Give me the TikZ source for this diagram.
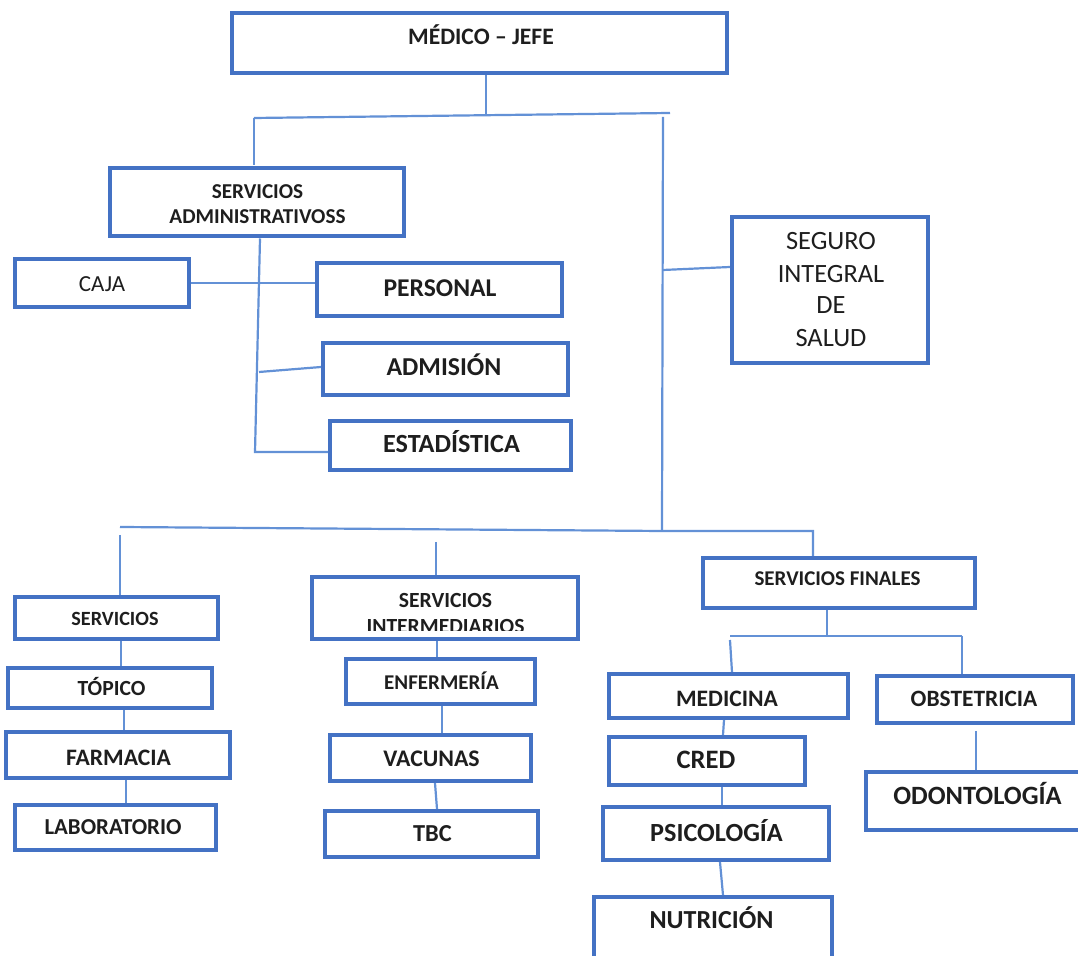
\documentclass[tikz,border=0pt]{standalone}
\usepackage{fontspec}
\setmainfont{Carlito}
\usetikzlibrary{calc}
\definecolor{bx}{HTML}{4472C4}
\definecolor{ln}{HTML}{6391D6}
\definecolor{tx}{HTML}{1E1E1E}
\tikzset{
 box/.style={draw=bx, line width=2pt, rectangle, inner sep=0pt},
 conn/.style={draw=ln, line width=1.1pt},
 lbl/.style={text=tx, inner sep=0pt},
}
\newcommand\T[6]{\node[lbl,font=#6\fontsize{#4pt}{#4pt}\selectfont,anchor=base,yshift=-0.322*#4pt] (#1) at (#2,#3) {#5};}
\newcommand\B[5]{\node[box,minimum width=#4pt,minimum height=#5pt] (#1) at (#2,#3) {};}
\begin{document}
\begin{tikzpicture}[x=0.5pt,y=-0.5pt]
\useasboundingbox (0,0) rectangle (1078,956);
\clip (0,0) rectangle (1078,956);
% boxes
\B{med}{479.5}{43}{247.5}{30}
\B{adm}{257}{202.5}{147}{34}
\B{caja}{102}{283}{87}{24}
\B{pers}{439.5}{289.5}{122.5}{26.5}
\B{admi}{445.5}{369}{122.5}{26}
\B{esta}{450.5}{445.5}{120.5}{24.5}
\B{sis}{830}{290}{98}{73}
\B{serv}{116}{618}{101.5}{21}
\B{top}{110}{688}{102}{20}
\B{farm}{118}{755}{112}{23}
\B{lab}{115}{827.5}{100.5}{22.5}
\B{sint}{445}{608}{133}{31}
\B{enf}{440.5}{681.5}{94.5}{22.5}
\B{vac}{430.5}{758}{100.5}{23}
\B{tbc}{431.5}{834}{106.5}{23}
\B{sfin}{839}{583}{136}{25}
\B{medi}{728.5}{696}{119.5}{22}
\B{obst}{975}{699.5}{98}{23.5}
\B{cred}{707}{761}{98}{24}
\B{psic}{716}{833.5}{113}{26.5}
\B{nutr}{713}{938}{119}{41}
\B{odon}{978}{801}{112}{29}
% labels
\T{tmed}{481}{37}{11.8}{MÉDICO – JEFE}{\bfseries}
\T{tadm1}{257.5}{192}{10.6}{SERVICIOS}{\bfseries}
\T{tadm2}{257.5}{217}{10.6}{ADMINISTRATIVOSS}{\bfseries}
\T{tcaja}{102}{284}{11.5}{CAJA}{\mdseries}
\T{tpers}{440}{288}{12.8}{PERSONAL}{\bfseries}
\T{tadmi}{444}{367}{12.9}{ADMISIÓN}{\bfseries}
\T{testa}{451.5}{444}{13.1}{ESTADÍSTICA}{\bfseries}
\T{tsis1}{831}{241.5}{13.2}{SEGURO}{\mdseries}
\T{tsis2}{831}{274.5}{13.2}{INTEGRAL}{\mdseries}
\T{tsis3}{831}{305}{13.2}{DE}{\mdseries}
\T{tsis4}{831}{338.5}{13.2}{SALUD}{\mdseries}
\T{tserv}{115}{619}{10.1}{SERVICIOS}{\bfseries}
\T{ttop}{111.5}{689}{10.8}{TÓPICO}{\bfseries}
\T{tfarm}{118.5}{757.5}{11.8}{FARMACIA}{\bfseries}
\T{tlab}{113}{827.5}{11.4}{LABORATORIO}{\bfseries}
\begin{scope}
\clip (sint.north west) rectangle ([yshift=5pt]sint.south east);
\T{tsint1}{445.5}{601}{10.8}{SERVICIOS}{\bfseries}
\T{tsint2}{445.5}{627}{10.8}{INTERMEDIARIOS}{\bfseries}
\end{scope}
\T{tenf}{441.5}{682.5}{10.5}{ENFERMERÍA}{\bfseries}
\T{tvac}{431.5}{759}{11.9}{VACUNAS}{\bfseries}
\T{ttbc}{432.5}{833.5}{12.2}{TBC}{\bfseries}
\T{tsfin}{837.5}{579}{10.5}{SERVICIOS FINALES}{\bfseries}
\T{tmedi}{727}{698.5}{11.8}{MEDICINA}{\bfseries}
\T{tobst}{974}{699}{11.7}{OBSTETRICIA}{\bfseries}
\T{tcred}{706}{760}{13.3}{CRED}{\bfseries}
\T{tpsic}{716.5}{833.5}{13.1}{PSICOLOGÍA}{\bfseries}
\T{tnutr}{711.5}{920}{13}{NUTRICIÓN}{\bfseries}
\T{todon}{977.5}{796.5}{13.2}{ODONTOLOGÍA}{\bfseries}
% connectors: top level
\coordinate (bL) at (254,118);
\coordinate (bR) at (670,113);
\coordinate (bM) at (486,115);
\coordinate (bLd) at (254,165);
\coordinate (vR) at (663,117);
\coordinate (vRb) at (662,531);
\draw[conn] ([xshift=3.25pt]med.south) -- (bM);
\draw[conn] (bL) -- (bR);
\draw[conn] (bL) -- (bLd);
\draw[conn] (vR) -- (vRb);
\coordinate (sj) at (663,270);
\draw[conn] (sj) -- ([yshift=11.5pt]sis.west);
% administrative
\coordinate (a0) at ([xshift=1.5pt]adm.south);
\coordinate (a1) at (255,452);
\coordinate (a2) at (259,372);
\draw[conn] (a0) -- (a1) -- (a1 -| esta.west);
\draw[conn] (a2) -- ([yshift=1pt]admi.west);
\draw[conn] (caja.east) -- (caja.east -| pers.west);
% lower bus
\coordinate (c0) at (120,527);
\coordinate (c1) at (813,531);
\coordinate (c2) at (120,535);
\coordinate (c3) at (436,542);
\draw[conn] (c0) -- (vRb) -- (c1) -- (c1 |- sfin.north);
\draw[conn] (c2) -- (c2 |- serv.north);
\draw[conn] (c3) -- (c3 |- sint.north);
% column 1
\coordinate (k1) at ([xshift=2.5pt]serv.south);
\draw[conn] (k1) -- (k1 |- top.north);
\coordinate (k2) at ([xshift=7pt]top.south);
\draw[conn] (k2) -- (k2 |- farm.north);
\coordinate (k3) at ([xshift=4pt]farm.south);
\draw[conn] (k3) -- (k3 |- lab.north);
% column 2
\coordinate (k4) at ([xshift=-4pt]sint.south);
\draw[conn] (k4) -- (k4 |- enf.north);
\coordinate (k5) at ([xshift=0.75pt]enf.south);
\draw[conn] (k5) -- (k5 |- vac.north);
\coordinate (k6) at ([xshift=2.25pt]vac.south);
\draw[conn] (k6) -- ([xshift=2.75pt]tbc.north);
% column 3
\coordinate (k7) at ([xshift=-6pt]sfin.south);
\coordinate (f0) at (827,636);
\coordinate (fL) at (730,636);
\coordinate (fR) at (962,636);
\draw[conn] (k7) -- (f0);
\draw[conn] (fL) -- (fR);
\coordinate (fL2) at (730,640);
\draw[conn] (fL2) -- ([xshift=1.75pt]medi.north);
\draw[conn] (fR) -- (fR |- obst.north);
\coordinate (k8) at ([xshift=-2.25pt]medi.south);
\draw[conn] (k8) -- ([xshift=8pt]cred.north);
\coordinate (k9) at ([xshift=7.5pt]cred.south);
\draw[conn] (k9) -- (k9 |- psic.north);
\coordinate (k10) at ([xshift=2pt]psic.south);
\draw[conn] (k10) -- ([xshift=5pt]nutr.north);
\coordinate (o1) at (976,731);
\draw[conn] (o1) -- (o1 |- odon.north);
\end{tikzpicture}
\end{document}
